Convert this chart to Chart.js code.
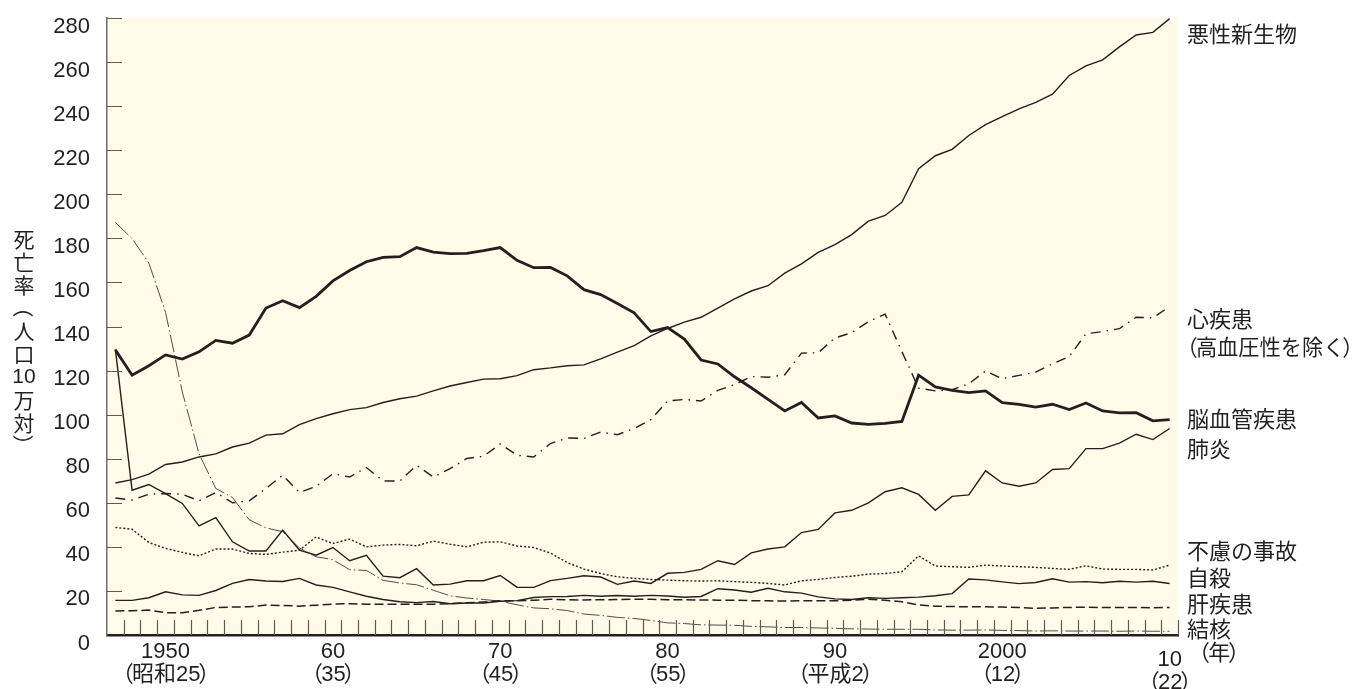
<!DOCTYPE html>
<html>
<head>
<meta charset="utf-8">
<script src="https://cdn.jsdelivr.net/npm/chart.js@4.4.1/dist/chart.umd.min.js"></script>
<style>
html,body{margin:0;padding:0;background:#fff;}
canvas{display:block;}
</style>
</head>
<body>
<canvas id="deathChart" width="1354" height="689"></canvas>
<script>

// 死因別死亡率（人口10万対）1947-2010
const years = [
1947,1948,1949,1950,1951,1952,1953,1954,1955,1956,
1957,1958,1959,1960,1961,1962,1963,1964,1965,1966,
1967,1968,1969,1970,1971,1972,1973,1974,1975,1976,
1977,1978,1979,1980,1981,1982,1983,1984,1985,1986,
1987,1988,1989,1990,1991,1992,1993,1994,1995,1996,
1997,1998,1999,2000,2001,2002,2003,2004,2005,2006,
2007,2008,2009,2010
];

const cancer = [
69.0,70.5,73.0,77.4,78.5,80.8,82.2,85.3,87.1,90.7,
91.3,95.5,98.2,100.4,102.3,103.2,105.5,107.2,108.4,110.8,
113.0,114.6,116.1,116.3,117.7,120.4,121.2,122.2,122.6,125.3,
128.4,131.3,135.7,139.1,142.0,144.2,148.3,152.5,156.1,158.5,
164.2,168.4,173.6,177.2,181.7,187.8,190.4,196.4,211.6,217.5,
220.4,226.7,231.6,235.2,238.8,241.7,245.4,253.9,258.3,261.0,
266.9,272.3,273.5,279.7
];

const heart = [
62.2,61.2,63.9,64.2,63.9,60.9,64.7,60.0,60.9,66.5,
72.5,64.7,67.5,73.2,71.7,76.0,69.9,69.9,77.0,71.7,
75.5,80.1,81.1,86.7,81.6,80.8,86.9,89.4,89.2,92.1,
90.9,93.7,97.7,106.2,106.9,106.2,111.0,113.6,117.3,117.0,
118.1,127.9,128.1,134.8,137.2,142.2,145.6,128.6,112.0,110.8,
111.3,114.0,119.8,116.3,117.8,119.3,123.1,126.4,136.7,137.7,
139.0,144.2,143.9,149.1
];

const cerebro = [
129.4,117.9,122.2,127.1,125.2,128.5,133.7,132.4,136.1,148.4,
151.7,148.6,153.7,160.7,165.4,169.4,171.4,171.7,175.8,173.8,
173.1,173.2,174.4,175.8,170.0,166.7,166.8,163.0,156.7,154.5,
150.4,146.2,137.7,139.5,134.3,124.8,123.0,117.2,112.2,106.9,
101.7,105.5,98.5,99.4,96.2,95.6,96.0,96.9,117.9,112.6,
111.0,110.0,110.8,105.5,104.7,103.4,104.7,102.3,105.3,101.7,
100.8,100.9,97.2,97.7
];

const pneumonia = [
129.6,65.7,68.3,64.2,59.7,49.5,53.3,42.3,38.1,38.1,
47.6,38.5,36.2,39.7,33.7,36.2,26.7,26.0,30.1,22.7,
23.1,24.6,24.6,27.0,21.7,21.6,24.7,25.7,26.9,26.3,
23.0,24.5,23.4,28.0,28.4,29.8,33.7,32.0,37.3,39.0,
40.0,46.5,47.9,55.4,56.6,60.0,65.0,66.8,63.8,56.6,
62.9,63.6,74.5,69.0,67.5,69.0,75.1,75.5,84.6,84.6,
87.1,91.1,88.7,93.7
];

const accident = [
48.8,48.0,42.0,39.3,37.5,35.9,39.0,39.0,37.0,36.6,
37.6,38.5,44.5,41.5,43.5,40.0,40.8,41.1,40.5,42.6,
41.2,40.0,42.1,42.3,40.4,39.7,37.2,32.9,29.9,27.9,
26.4,25.7,25.2,24.9,24.6,24.5,24.6,24.2,23.9,23.4,
22.7,24.6,25.2,26.1,26.7,27.6,27.9,28.7,35.9,31.3,
31.0,30.7,31.7,31.3,31.0,30.7,30.2,29.8,31.4,29.9,
29.8,29.8,29.5,31.7
];

const suicide = [
15.7,15.7,16.9,19.6,18.2,18.0,20.2,23.4,25.2,24.5,
24.3,25.7,22.7,21.6,19.6,17.6,16.1,15.1,14.7,15.2,
14.2,14.5,14.5,15.3,15.6,17.0,17.4,17.5,18.0,17.6,
17.9,17.6,18.0,17.7,17.1,17.5,21.0,20.4,19.4,21.2,
19.6,19.0,17.3,16.4,16.1,16.9,16.6,16.9,17.2,17.8,
18.8,25.4,25.0,24.1,23.3,23.8,25.5,24.0,24.2,23.7,
24.4,24.0,24.4,23.4
];

const liver = [
10.9,11.0,11.3,10.1,10.1,11.2,12.5,12.7,12.8,13.6,
13.4,13.1,13.5,14.0,14.2,14.0,14.0,14.0,14.0,14.0,
14.2,14.6,15.0,15.5,15.5,15.8,16.2,16.0,15.9,16.0,
16.1,16.2,16.2,16.0,16.0,15.9,15.8,15.8,15.6,15.5,
15.4,15.5,15.5,15.5,15.8,16.2,15.8,15.1,13.6,13.1,
12.9,12.8,12.8,12.7,12.5,12.1,12.3,12.5,12.6,12.5,
12.5,12.5,12.4,12.5
];

const tuberculosis = [
187.2,179.9,168.8,146.4,110.3,82.2,66.5,62.4,52.3,48.6,
46.9,39.5,35.5,34.2,29.6,29.3,24.8,23.6,22.8,20.3,
17.8,16.8,16.1,15.4,13.7,12.3,11.9,11.1,9.5,8.9,
8.0,7.5,6.6,5.5,5.2,4.6,4.5,4.4,3.9,3.7,
3.4,3.4,3.2,3.0,2.8,2.7,2.6,2.6,2.6,2.3,
2.2,2.2,2.3,2.1,2.0,1.8,1.9,1.8,1.8,1.8,
1.7,1.8,1.7,1.7
];

const xLabelYears = [1950,1960,1970,1980,1990,2000,2010];
const xLabelTop = ["1950","60","70","80","90","2000","10"];
const xLabelBottom = ["昭和25","35","45","55","平成2","12","22"];

const INK = "#231f20";
const CREAM = "#fffbe8";
const FONT = "'Liberation Sans', 'Noto Sans CJK JP', sans-serif";
const JP = "'Noto Sans CJK JP', sans-serif";

// label text and anchor value on the y scale
const rightLabels = [
  ["悪性新生物", 273],
  ["心疾患", 143.5],
  ["（高血圧性を除く）", 131],
  ["脳血管疾患", 98],
  ["肺炎", 84.4],
  ["不慮の事故", 38.1],
  ["自殺", 26.1],
  ["肝疾患", 14.1],
  ["結核", 2.7]
];

const series = [
  {label:"脳血管疾患", values:cerebro, width:2.8, dash:[], color:INK},
  {label:"悪性新生物", values:cancer, width:1.4, dash:[], color:INK},
  {label:"心疾患", values:heart, width:1.4, dash:[10,6,1.5,6], color:INK},
  {label:"肺炎", values:pneumonia, width:1.4, dash:[], color:INK},
  {label:"不慮の事故", values:accident, width:1.4, dash:[2,2], color:INK},
  {label:"自殺", values:suicide, width:1.4, dash:[], color:INK},
  {label:"肝疾患", values:liver, width:1.5, dash:[9,4], color:INK},
  {label:"結核", values:tuberculosis, width:0.9, dash:[18,3,1.5,3], color:"#3a3a3a"}
];

// full-width parentheses drawn tight around inner text
function parenText(ctx, inner, x, y, size, align, maxW){
  ctx.font = size + "px " + FONT;
  const innerW = ctx.measureText(inner).width;
  const a = size*0.42, b = size*0.36;
  const w = a + innerW + b;
  let s = 1;
  if(maxW && w > maxW) s = maxW / w;
  const left = align === "center" ? x - w*s/2 : x;
  ctx.save();
  ctx.translate(left, y);
  ctx.scale(s, 1);
  ctx.textAlign = "left";
  ctx.fillText("（", -size*0.5, 0);
  ctx.fillText(inner, a, 0);
  ctx.fillText("）", a + innerW - size*0.1, 0);
  ctx.restore();
}

const decorPlugin = {
  id:"decor",
  beforeDraw(chart){
    const {ctx, chartArea:a} = chart;
    ctx.save();
    ctx.fillStyle = CREAM;
    ctx.fillRect(a.left, a.top, a.right - a.left, a.bottom - a.top);
    ctx.restore();
  },
  afterDraw(chart){
    const {ctx, chartArea:a} = chart;
    const xs = chart.scales.x, ys = chart.scales.y;
    ctx.save();

    // inner ticks
    ctx.strokeStyle = "#5a5a5a";
    ctx.lineWidth = 1.2;
    ctx.beginPath();
    ys.ticks.forEach(t=>{
      if(t.value === 0) return;
      const py = Math.round(ys.getPixelForValue(t.value)) + 0.5;
      ctx.moveTo(a.left, py);
      ctx.lineTo(a.left + 15, py);
    });
    for(let v = 1947.5; v <= 2010.5; v += 1){
      const px = Math.round(xs.getPixelForValue(v)) + 0.5;
      ctx.moveTo(px, a.bottom);
      ctx.lineTo(px, a.bottom - 15);
    }
    ctx.stroke();

    ctx.fillStyle = INK;
    ctx.textBaseline = "alphabetic";

    // x labels
    const fs = 22;
    xLabelYears.forEach((yr,i)=>{
      const px = xs.getPixelForValue(yr);
      const shift = yr === 2010 ? 8 : 0;
      ctx.font = fs + "px " + FONT;
      ctx.textAlign = "center";
      ctx.fillText(xLabelTop[i], px, 650 + shift + fs*0.36);
      parenText(ctx, xLabelBottom[i], px, 673 + shift + fs*0.37, fs, "center");
    });

    // right labels
    const lx = a.right + 9;
    const ls = 22;
    rightLabels.forEach(([txt,val])=>{
      const py = ys.getPixelForValue(val) + ls*0.38;
      if(txt.startsWith("（")){
        parenText(ctx, txt.slice(1,-1), lx, py, ls, "left", 165);
      } else {
        ctx.font = ls + "px " + JP;
        ctx.textAlign = "left";
        ctx.fillText(txt, lx, py);
      }
    });
    parenText(ctx, "年", 1199, 651.5 + ls*0.38, ls, "left");

    // vertical y title
    const titleParts = ["死","亡","率","（","人","口","10","万","対","）"];
    titleParts.forEach((ch,i)=>{
      const cy = 238 + i*23;
      ctx.save();
      ctx.translate(24, cy);
      ctx.textAlign = "center";
      ctx.textBaseline = "middle";
      if(ch === "（" || ch === "）"){
        ctx.rotate(Math.PI/2);
        ctx.font = "21px " + JP;
      } else if(ch === "10"){
        ctx.font = "21px 'Liberation Sans', sans-serif";
      } else {
        ctx.font = "21px " + JP;
      }
      ctx.fillText(ch, 0, 1);
      ctx.restore();
    });

    ctx.restore();
  }
};

const ctx = document.getElementById("deathChart");

new Chart(ctx,{
  type:"line",
  data:{
    datasets: series.map(s=>({
      label:s.label,
      data:years.map((yr,i)=>({x:yr, y:s.values[i]})),
      borderColor:s.color,
      borderWidth:s.width,
      borderDash:s.dash,
      pointRadius:0,
      fill:false,
      tension:0
    }))
  },
  options:{
    responsive:false,
    animation:false,
    devicePixelRatio:1,
    layout:{padding:{top:18, right:176, bottom:0, left:0}},
    plugins:{legend:{display:false}, tooltip:{enabled:false}},
    scales:{
      x:{
        type:"linear", min:1946.5, max:2010.5,
        grid:{display:false, drawTicks:false},
        border:{color:INK, width:2.5},
        ticks:{display:false},
        afterFit(s){ s.height = 54; s.paddingLeft = 0; s.paddingRight = 0; }
      },
      y:{
        min:0, max:280,
        ticks:{stepSize:20, color:INK, padding:17, labelOffset:8.5,
          font:{family:"'Liberation Sans', sans-serif", size:22}},
        grid:{display:false, drawTicks:false},
        border:{color:"#6e6e6e", width:1.5},
        afterFit(s){ s.width = 107; s.paddingTop = 0; s.paddingBottom = 0; }
      }
    }
  },
  plugins:[decorPlugin]
});

</script>
</body>
</html>
